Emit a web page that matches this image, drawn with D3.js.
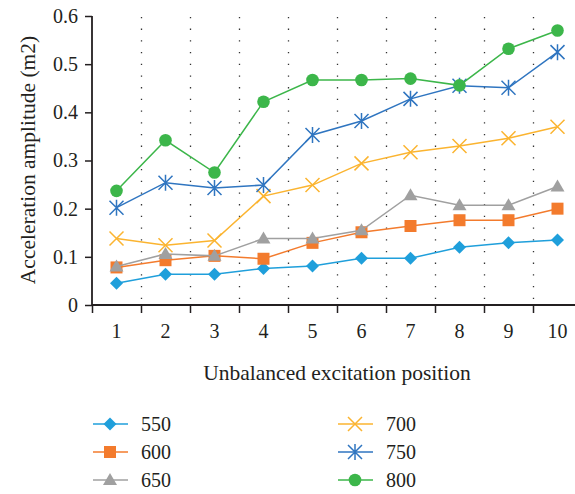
<!DOCTYPE html>
<html>
<head>
<meta charset="utf-8">
<script src="https://cdn.jsdelivr.net/npm/d3@7"></script>
<style>
  body { margin: 0; background: #fff; }
  text { font-family: "Liberation Serif", "DejaVu Serif", serif; fill: #231f20; }
</style>
</head>
<body>
<div class="chart"></div>
<script>
// Acceleration amplitude vs unbalanced excitation position

var positions = [1, 2, 3, 4, 5, 6, 7, 8, 9, 10];
var seriesNames = ["550", "600", "650", "700", "750", "800"];
var s550 = [0.045, 0.064, 0.064, 0.076, 0.081, 0.097, 0.097, 0.120, 0.129, 0.135];
var s600 = [0.078, 0.093, 0.102, 0.096, 0.129, 0.151, 0.164, 0.176, 0.176, 0.200];
var s650 = [0.080, 0.106, 0.102, 0.138, 0.138, 0.155, 0.228, 0.207, 0.207, 0.246];
var s700 = [0.138, 0.124, 0.134, 0.226, 0.249, 0.294, 0.317, 0.330, 0.346, 0.370];
var s750 = [0.202, 0.254, 0.243, 0.249, 0.353, 0.382, 0.428, 0.455, 0.451, 0.525];
var s800 = [0.237, 0.342, 0.275, 0.422, 0.467, 0.467, 0.470, 0.456, 0.532, 0.570];
var yTicks = [0, 0.1, 0.2, 0.3, 0.4, 0.5, 0.6];

var values = [s550, s600, s650, s700, s750, s800];
var colors = ["#1f9fdb", "#f37b2d", "#a0a0a0", "#fbb430", "#2f75c0", "#3cb64a"];
var shapes = ["diamond", "square", "triangle", "times", "asterisk", "circle"];

var svgWidth = 575;
var svgHeight = 494;
var plotLeft = 92, plotRight = 582, plotTop = 16, plotBottom = 305;
var fontSize = "20px";
var titleSize = "21.5px";

var svg = d3.select(".chart")
    .append("svg")
    .attr("width", svgWidth)
    .attr("height", svgHeight);

var x = d3.scaleBand().domain(positions).range([plotLeft, plotRight]);
var xEdge = d3.scaleLinear().domain([0.5, 10.5]).range([plotLeft, plotRight]);
var y = d3.scaleLinear().domain([0, 0.6]).range([plotBottom, plotTop]);

function cx(d) { return x(d) + x.bandwidth() / 2; }

// dotted vertical grid lines at category boundaries
svg.append("g")
    .selectAll("line")
    .data(d3.range(1.5, 10.5, 1))
    .enter()
    .append("line")
    .attr("x1", function(d) { return Math.round(xEdge(d)) + 0.5; })
    .attr("x2", function(d) { return Math.round(xEdge(d)) + 0.5; })
    .attr("y1", plotBottom - 6)
    .attr("y2", plotTop)
    .attr("stroke", "#333")
    .attr("stroke-width", 1.3)
    .attr("stroke-dasharray", "1.3,10.4");

// symbol paths
function symbolPath(shape) {
    if (shape === "diamond") return "M0,-6.5L6.5,0L0,6.5L-6.5,0Z";
    if (shape === "square") return "M-6,-6H6V6H-6Z";
    if (shape === "triangle") return "M0,-7L7,5L-7,5Z";
    if (shape === "times") return "M-7,-7L7,7M-7,7L7,-7";
    if (shape === "asterisk") return "M-7,-7L7,7M-7,7L7,-7M0,-8L0,8";
    return d3.symbol().type(d3.symbolCircle).size(125)();
}

var line = d3.line()
    .x(function(d, i) { return cx(positions[i]); })
    .y(function(d) { return y(d); });

values.forEach(function(vals, k) {
    var g = svg.append("g");
    g.append("path")
        .attr("d", line(vals))
        .attr("fill", "none")
        .attr("stroke", colors[k])
        .attr("stroke-width", 1.5);
    var stroked = shapes[k] === "times" || shapes[k] === "asterisk";
    g.selectAll("path.mark")
        .data(vals)
        .enter()
        .append("path")
        .attr("class", "mark")
        .attr("transform", function(d, i) {
            return "translate(" + cx(positions[i]) + "," + y(d) + ")";
        })
        .attr("d", symbolPath(shapes[k]))
        .attr("fill", stroked ? "none" : colors[k])
        .attr("stroke", stroked ? colors[k] : "none")
        .attr("stroke-width", 1.5);
});

// axes
var leftAxis = d3.axisLeft(y)
    .tickValues(yTicks)
    .tickSize(7)
    .tickPadding(7)
    .tickFormat(function(d) { return d === 0 ? "0" : d.toFixed(1); });

var yAxisG = svg.append("g")
    .attr("transform", "translate(" + plotLeft + ",0)")
    .call(leftAxis);

var xTickAxis = d3.axisBottom(xEdge)
    .tickValues(d3.range(0.5, 11, 1))
    .tickSize(8)
    .tickFormat("");

var xTickG = svg.append("g")
    .attr("transform", "translate(0," + plotBottom + ")")
    .call(xTickAxis);

var bottomAxis = d3.axisBottom(x).tickSize(0).tickPadding(19);
var xAxisG = svg.append("g")
    .attr("transform", "translate(0," + plotBottom + ")")
    .call(bottomAxis);
xAxisG.select(".domain").remove();

[yAxisG, xTickG].forEach(function(g) {
    g.selectAll(".domain").attr("stroke", "#231f20").attr("stroke-width", 1.8);
    g.selectAll(".tick line").attr("stroke", "#231f20").attr("stroke-width", 1.5);
});
yAxisG.select(".domain").attr("d", "M0," + plotTop + "V" + plotBottom);
xTickG.select(".domain").attr("d", "M" + plotLeft + ",0H" + plotRight);

svg.selectAll(".tick text")
    .style("font-family", "'Liberation Serif', 'DejaVu Serif', serif")
    .style("font-size", fontSize)
    .attr("fill", "#231f20");

// axis titles
svg.append("text")
    .attr("transform", "rotate(-90)")
    .attr("x", -160)
    .attr("y", 35)
    .attr("text-anchor", "middle")
    .style("font-size", titleSize)
    .text("Acceleration amplitude (m2)");

svg.append("text")
    .attr("x", 337)
    .attr("y", 380)
    .attr("text-anchor", "middle")
    .style("font-size", titleSize)
    .text("Unbalanced excitation position");

// legend
var legend = svg.append("g");
seriesNames.forEach(function(name, k) {
    var col = Math.floor(k / 3), row = k % 3;
    var lx = 93 + col * 245, ly = 424 + row * 28;
    var stroked = shapes[k] === "times" || shapes[k] === "asterisk";
    legend.append("line")
        .attr("x1", lx).attr("x2", lx + 35)
        .attr("y1", ly).attr("y2", ly)
        .attr("stroke", colors[k])
        .attr("stroke-width", 1.5);
    legend.append("path")
        .attr("transform", "translate(" + (lx + 17) + "," + ly + ")")
        .attr("d", symbolPath(shapes[k]))
        .attr("fill", stroked ? "none" : colors[k])
        .attr("stroke", stroked ? colors[k] : "none")
        .attr("stroke-width", 1.5);
    legend.append("text")
        .attr("x", lx + 48)
        .attr("y", ly + 7)
        .style("font-size", fontSize)
        .text(name);
});
</script>
</body>
</html>
